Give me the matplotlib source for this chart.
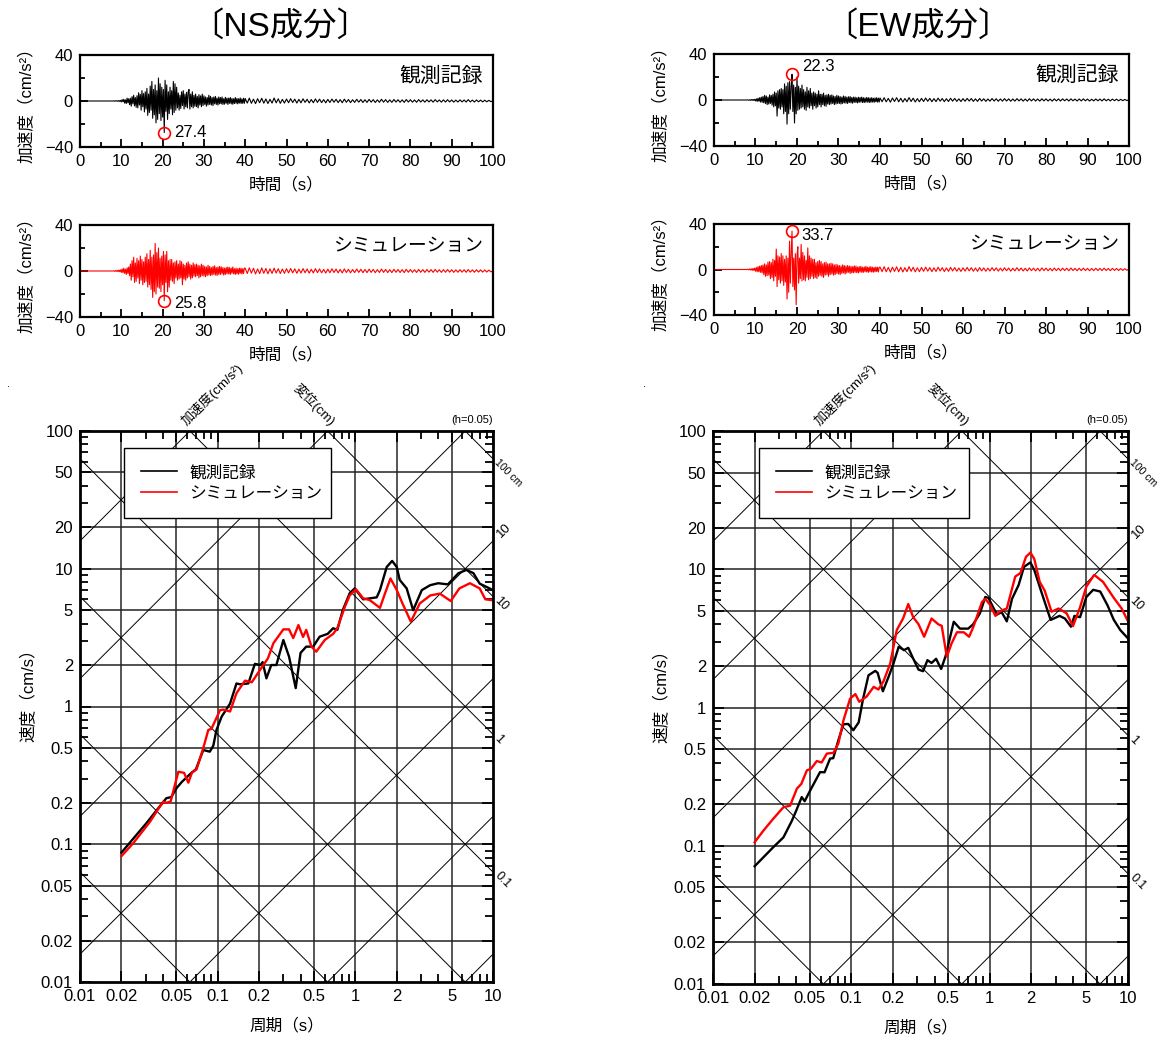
import numpy as np
import matplotlib
matplotlib.use('Agg')
import matplotlib.pyplot as plt
from matplotlib.ticker import FixedLocator, FixedFormatter, NullFormatter
from matplotlib.lines import Line2D

plt.rcParams['font.family'] = ['Liberation Sans', 'Noto Sans CJK JP', 'DejaVu Sans']

# ---------------- data: acceleration time histories (cm/s^2) ----------------
# sample times: 1 s before 8 s, 0.2 s in 8-40 s, 0.5 s in 40-100 s
T_WAVE = np.concatenate([np.arange(0, 8), np.linspace(8, 39.8, 160), np.linspace(40, 100, 121)])

NS_OBS_ACC = [0] * 8 + [
    0, 0.1, -0.2, 0.3, -0.1, 0.2, -0.3, 0.4, -0.3, 0.5,
    -0.8, 1.2, -0.6, 1.5, -1.8, 1.0, -2.2, 2.5, -1.5, 2.0,
    -3.2, 2.4, -4.5, 3.8, -2.5, 5.0, -4.2, 3.0, -5.5, 4.6,
    -6.0, 7.2, -3.5, 5.8, -8.0, 9.0, -5.0, 6.5, -9.5, 8.0,
    -7.0, 11.0, -12.5, 6.0, -10.0, 13.0, -8.0, 17.0, -15.0, 10.0,
    -12.0, 14.0, -19.0, 9.0, -16.0, 20.0, -11.0, 15.0, -17.0, 12.0,
    -14.0, 10.0, -27.4, 18.0, -9.0, 14.0, -16.0, 8.0, -11.0, 12.0,
    -7.0, 9.0, -12.0, 17.0, -10.0, 15.0, -8.0, 12.0, -6.0, 7.0,
    -8.0, 5.0, -6.5, 8.0, -4.0, 9.0, -7.0, 6.0, -5.0, 7.5,
    -6.0, 8.0, 10.0, -7.0, 6.0, -5.0, 8.0, -6.0, 5.0, -4.5,
    6.0, -5.0, 4.0, -6.0, 5.5, -3.5, 4.5, -5.0, 6.0, -4.0,
    4.5, -3.0, 3.5, -4.5, 3.0, -3.5, 5.0, -3.0, 4.0, -3.5,
    3.0, -4.0, 3.5, -2.5, 4.0, -3.0, 2.5, -3.5, 3.5, -2.5,
    3.0, -2.5, 3.5, -3.0, 2.0, -2.8, 3.2, -2.0, 2.5, -3.0,
    2.5, -2.0, 3.0, -2.5, 2.2, -2.8, 2.0, -2.2, 3.0, -2.0,
    2.2, -2.5, 2.0, -1.8, 2.6, -2.2, 1.8, -2.0, 2.4, -2.0] + [
    2.2, -1.8, 2.5, -2.0, 1.6, -2.3, 2.0, -1.5, 2.4, -1.9,
    1.8, -2.2, 1.5, -1.8, 2.6, -1.6, 1.9, -2.0, 1.4, -1.8,
    1.7, -1.5, 2.0, -1.3, 1.6, -1.8, 1.4, -1.6, 1.9, -1.2,
    1.5, -1.7, 1.3, -1.5, 1.8, -1.2, 1.6, -1.4, 1.2, -1.6,
    1.4, -1.3, 1.7, -1.1, 1.5, -1.4, 1.2, -1.5, 1.6, -1.1,
    1.3, -1.4, 1.1, -1.2, 1.5, -1.0, 1.3, -1.3, 1.1, -1.2,
    1.4, -1.0, 1.2, -1.3, 1.0, -1.1, 1.5, -1.0, 1.2, -1.2,
    1.0, -1.2, 1.3, -0.9, 1.1, -1.1, 1.0, -1.2, 1.3, -0.9,
    1.1, -1.0, 0.9, -1.1, 1.2, -0.9, 1.0, -1.0, 1.1, -0.8,
    1.0, -1.0, 1.2, -0.8, 0.9, -1.0, 1.0, -0.9, 1.1, -0.8,
    0.9, -1.0, 0.8, -0.9, 1.0, -0.8, 0.9, -0.9, 1.2, -0.8,
    0.8, -0.9, 0.9, -0.7, 0.8, -0.8, 0.7, -0.7, 0.6, -0.6,
    0.3]

NS_SIM_ACC = [0] * 8 + [
    0, 0.2, -0.3, 0.4, -0.3, 0.6, -0.5, 0.8, -0.6, 1.0,
    -1.2, 1.8, -1.5, 2.4, -2.0, 1.6, -3.0, 2.8, -2.2, 3.5,
    -4.0, 6.0, -8.0, 9.0, -5.0, 12.0, -10.0, 7.0, -9.0, 11.0,
    -6.0, 9.0, -11.0, 13.0, -8.0, 10.0, -12.0, 8.0, -10.0, 12.0,
    -9.0, 15.0, -14.0, 10.0, -12.0, 18.0, -16.0, 12.0, -23.0, 14.0,
    -18.0, 24.0, -20.0, 16.0, -14.0, 20.0, -15.0, 11.0, -18.0, 13.0,
    -12.0, 17.0, -25.8, 14.0, -10.0, 17.0, -18.0, 9.0, -14.0, 10.0,
    -8.0, 10.0, -9.0, 7.0, -11.0, 8.0, -6.0, 9.0, -8.0, 6.0,
    -7.0, 9.0, -6.0, 8.0, -12.0, 6.0, -7.0, 5.0, -8.0, 7.0,
    -6.0, 8.0, -5.0, 6.0, -7.0, 5.0, -6.0, 7.0, -4.5, 5.5,
    -5.0, 6.0, -4.0, 5.0, -6.0, 4.5, -5.0, 6.0, -4.0, 5.0,
    -4.5, 4.0, -5.0, 3.5, -4.0, 5.0, -3.5, 4.0, -4.0, 3.0,
    -3.5, 4.0, -3.0, 4.5, -3.5, 3.0, -4.0, 3.5, -3.0, 4.0,
    -3.0, 3.5, -2.5, 3.0, -3.5, 2.5, -3.0, 3.0, -2.5, 3.5,
    -2.5, 3.0, -3.0, 2.5, -2.0, 3.5, -2.5, 2.0, -3.0, 2.5,
    -2.5, 2.0, -2.8, 2.5, -2.0, 2.4, -2.6, 2.0, -2.2, 2.5] + [
    2.5, -2.2, 2.8, -1.9, 2.4, -2.6, 1.8, -2.3, 2.7, -2.0,
    2.2, -2.4, 1.9, -2.1, 2.5, -1.8, 2.0, -2.2, 1.7, -2.0,
    2.0, -1.7, 2.2, -1.6, 1.9, -2.0, 1.6, -1.8, 2.1, -1.5,
    1.8, -1.9, 1.5, -1.7, 2.0, -1.4, 1.8, -1.6, 1.4, -1.8,
    1.6, -1.5, 1.9, -1.3, 1.7, -1.6, 1.4, -1.7, 1.8, -1.3,
    1.5, -1.6, 1.3, -1.4, 1.7, -1.2, 1.5, -1.5, 1.3, -1.4,
    1.6, -1.2, 1.4, -1.5, 1.2, -1.3, 1.7, -1.2, 1.4, -1.4,
    1.2, -1.4, 1.5, -1.1, 1.3, -1.3, 1.2, -1.4, 1.5, -1.1,
    1.3, -1.2, 1.1, -1.3, 1.4, -1.1, 1.2, -1.2, 1.3, -1.0,
    1.2, -1.2, 1.4, -1.0, 1.1, -1.2, 1.2, -1.1, 1.3, -1.0,
    1.1, -1.2, 1.0, -1.1, 1.2, -1.0, 1.1, -1.1, 1.3, -1.0,
    1.0, -1.1, 1.1, -0.9, 1.0, -1.0, 0.9, -0.9, 0.8, -0.8,
    0.4]

EW_OBS_ACC = [0] * 8 + [
    0, 0.1, -0.2, 0.2, -0.3, 0.4, -0.3, 0.5, -0.4, 0.6,
    -0.8, 1.0, -1.2, 1.5, -1.0, 2.0, -1.8, 2.5, -2.0, 3.0,
    -2.5, 4.0, -3.0, 3.5, -4.0, 2.5, -3.5, 4.5, -3.0, 4.0,
    -4.5, 5.0, -6.0, 7.0, -5.0, 6.0, -14.0, 8.0, -7.0, 9.0,
    -8.0, 10.0, -6.0, 9.0, -12.0, 14.0, -10.0, 12.0, -21.0, 15.0,
    -12.0, 16.0, -8.0, 12.0, 22.3, -10.0, 13.0, -20.0, 11.0, -12.0,
    20.0, -9.0, 12.0, -8.0, 10.0, -7.0, 13.0, -6.0, 9.0, -8.0,
    7.0, -9.0, 11.0, -6.0, 8.0, -7.0, 10.0, -5.0, 6.0, -8.0,
    7.0, -5.0, 6.0, -7.0, 5.0, -6.0, 8.0, -4.0, 5.0, -6.0,
    5.0, -4.0, 6.0, -5.0, 4.0, -5.5, 4.5, -3.5, 5.0, -4.0,
    4.0, -3.5, 4.5, -3.0, 3.5, -4.0, 3.0, -3.5, 4.0, -3.0,
    3.5, -3.0, 3.0, -3.5, 2.5, -3.0, 3.5, -2.5, 3.0, -2.8,
    2.5, -3.0, 2.8, -2.2, 3.0, -2.5, 2.2, -2.8, 2.5, -2.0,
    2.5, -2.2, 2.0, -2.5, 2.4, -2.0, 2.2, -1.8, 2.5, -2.2,
    2.0, -2.2, 1.8, -2.0, 2.2, -1.8, 2.0, -2.2, 1.8, -2.0,
    2.0, -1.8, 1.6, -2.0, 1.8, -1.6, 2.0, -1.8, 1.6, -1.8] + [
    1.8, -1.5, 2.0, -1.6, 1.4, -1.9, 1.7, -1.3, 2.0, -1.6,
    1.5, -1.8, 1.3, -1.5, 2.1, -1.3, 1.6, -1.7, 1.2, -1.5,
    1.4, -1.3, 1.7, -1.1, 1.4, -1.5, 1.2, -1.4, 1.6, -1.0,
    1.3, -1.4, 1.1, -1.3, 1.5, -1.0, 1.4, -1.2, 1.0, -1.3,
    1.2, -1.1, 1.4, -0.9, 1.3, -1.2, 1.0, -1.2, 1.3, -0.9,
    1.1, -1.2, 0.9, -1.0, 1.3, -0.9, 1.1, -1.1, 0.9, -1.0,
    1.2, -0.9, 1.0, -1.1, 0.9, -1.0, 1.2, -0.8, 1.0, -1.0,
    0.9, -1.0, 1.1, -0.8, 1.0, -0.9, 0.9, -1.0, 1.1, -0.8,
    1.0, -0.9, 0.8, -1.0, 1.0, -0.8, 0.9, -0.9, 1.0, -0.7,
    0.9, -0.9, 1.0, -0.7, 0.8, -0.9, 0.9, -0.8, 1.0, -0.7,
    0.8, -0.9, 0.7, -0.8, 0.9, -0.7, 0.8, -0.8, 1.0, -0.7,
    0.7, -0.8, 0.8, -0.6, 0.7, -0.7, 0.6, -0.6, 0.5, -0.5,
    0.3]

EW_SIM_ACC = [0] * 8 + [
    0, 0.2, -0.3, 0.5, -0.4, 0.6, -0.8, 1.0, -0.8, 1.2,
    -1.5, 1.8, -2.0, 2.5, -2.0, 3.0, -2.5, 3.5, -3.0, 4.0,
    -4.5, 5.0, -6.0, 4.0, -5.5, 6.5, -5.0, 7.0, -8.0, 6.0,
    -7.0, 9.0, -10.0, 8.0, -6.0, 18.0, -15.0, 12.0, -9.0, 11.0,
    -12.0, 14.0, -10.0, 12.0, -14.0, 9.0, -11.0, 12.0, -26.0, 10.0,
    -20.0, 25.0, -12.0, 15.0, 33.7, -15.0, 10.0, -18.0, 14.0, -31.0,
    12.0, 20.0, -12.0, 10.0, -8.0, 22.0, -10.0, 15.0, -9.0, 12.0,
    -10.0, 8.0, -7.0, 19.0, -9.0, 12.0, -8.0, 10.0, -6.0, 9.0,
    -8.0, 9.0, -7.0, 6.0, -8.0, 7.0, -6.0, 8.0, -5.0, 7.0,
    -6.0, 5.0, -7.0, 6.0, -5.0, 6.5, -4.5, 5.0, -6.0, 5.0,
    -4.5, 5.5, -4.0, 5.0, -5.0, 4.0, -4.5, 4.5, -3.5, 4.0,
    -4.0, 3.5, -4.5, 3.0, -3.5, 4.0, -3.0, 3.5, -4.0, 3.0,
    -3.0, 3.5, -2.5, 3.0, -3.5, 2.8, -3.0, 2.5, -2.8, 3.2,
    -2.5, 3.0, -2.8, 2.2, -3.0, 2.5, -2.2, 2.8, -2.5, 2.0,
    -2.5, 2.2, -2.0, 2.8, -2.2, 2.0, -2.5, 2.2, -2.0, 2.5,
    -2.2, 2.0, -2.4, 1.8, -2.0, 2.2, -1.8, 2.0, -2.2, 1.8] + [
    2.2, -1.9, 2.5, -2.0, 1.8, -2.3, 2.1, -1.7, 2.4, -2.0,
    1.9, -2.2, 1.6, -1.9, 2.5, -1.6, 2.0, -2.1, 1.5, -1.9,
    1.8, -1.6, 2.1, -1.4, 1.7, -1.9, 1.5, -1.7, 2.0, -1.3,
    1.6, -1.8, 1.4, -1.6, 1.9, -1.3, 1.7, -1.5, 1.3, -1.7,
    1.5, -1.4, 1.8, -1.2, 1.6, -1.5, 1.3, -1.6, 1.7, -1.2,
    1.4, -1.5, 1.2, -1.3, 1.6, -1.1, 1.4, -1.4, 1.2, -1.3,
    1.5, -1.1, 1.3, -1.4, 1.1, -1.2, 1.6, -1.1, 1.3, -1.3,
    1.1, -1.3, 1.4, -1.0, 1.2, -1.2, 1.1, -1.3, 1.4, -1.0,
    1.2, -1.1, 1.0, -1.2, 1.3, -1.0, 1.1, -1.1, 1.2, -0.9,
    1.1, -1.1, 1.3, -0.9, 1.0, -1.1, 1.1, -1.0, 1.2, -0.9,
    1.0, -1.1, 0.9, -1.0, 1.1, -0.9, 1.0, -1.0, 1.2, -0.9,
    0.9, -1.0, 1.0, -0.8, 0.9, -0.9, 0.8, -0.8, 0.7, -0.7,
    0.4]

TIME_TICKS = [0, 10, 20, 30, 40, 50, 60, 70, 80, 90, 100]
TIME_MINOR = [5, 15, 25, 35, 45, 55, 65, 75, 85, 95]
ACC_TICKS = [-40, 0, 40]
ACC_MINOR = [-20, 20]

# ---------------- data: velocity response spectra (h=0.05) ----------------
NS_T_OBS = [0.02, 0.0305, 0.0361, 0.0424, 0.046, 0.0502, 0.055, 0.0647, 0.0695, 0.0786,
            0.0877, 0.093, 0.098, 0.1068, 0.123, 0.137, 0.145, 0.167, 0.1864, 0.205,
            0.212, 0.226, 0.245, 0.267, 0.30, 0.33, 0.369, 0.40, 0.44, 0.494,
            0.55, 0.63, 0.69, 0.74, 0.81, 0.91, 0.99, 1.14, 1.43, 1.51,
            1.69, 1.85, 2.0, 2.1, 2.36, 2.63, 3.04, 3.5, 4.0, 4.7,
            5.6, 6.4, 7.2, 8.0, 10.0]
NS_V_OBS = [0.087, 0.143, 0.177, 0.216, 0.22, 0.255, 0.284, 0.331, 0.35, 0.483,
            0.47, 0.52, 0.675, 0.843, 1.05, 1.47, 1.45, 1.47, 2.04, 2.0,
            2.1, 1.6, 2.0, 2.0, 3.04, 2.30, 1.36, 2.45, 2.72, 2.72,
            3.21, 3.37, 3.70, 3.6, 5.0, 6.64, 7.2, 6.0, 6.2, 7.0,
            10.3, 11.4, 10.3, 8.3, 7.2, 5.0, 7.0, 7.6, 7.85, 7.7,
            9.27, 9.8, 9.3, 7.8, 7.0]
NS_T_SIM = [0.02, 0.0244, 0.0268, 0.0323, 0.037, 0.0403, 0.0425, 0.0455, 0.0518, 0.057,
            0.0612, 0.065, 0.0703, 0.0786, 0.0855, 0.0902, 0.104, 0.11, 0.123, 0.137,
            0.158, 0.177, 0.203, 0.232, 0.254, 0.30, 0.33, 0.354, 0.386, 0.417,
            0.44, 0.48, 0.52, 0.60, 0.69, 0.74, 0.84, 0.91, 1.01, 1.14,
            1.27, 1.51, 1.64, 1.80, 2.0, 2.2, 2.53, 2.94, 3.5, 4.11,
            4.93, 5.7, 6.8, 8.0, 8.8, 10.0]
NS_V_SIM = [0.082, 0.102, 0.115, 0.146, 0.18, 0.204, 0.2, 0.204, 0.336, 0.33,
            0.28, 0.33, 0.35, 0.50, 0.675, 0.69, 0.94, 0.95, 0.92, 1.25,
            1.54, 1.5, 1.84, 2.24, 2.88, 3.63, 3.63, 3.14, 3.9, 3.2,
            3.6, 2.72, 2.5, 3.04, 3.37, 3.7, 5.3, 6.4, 7.1, 6.1,
            5.93, 5.2, 6.6, 8.5, 7.0, 5.6, 4.13, 5.6, 6.4, 6.6,
            5.83, 7.2, 7.85, 7.2, 6.0, 5.9]

EW_T_OBS = [0.02, 0.0273, 0.0323, 0.0371, 0.040, 0.0438, 0.046, 0.0503, 0.0594, 0.064,
            0.0702, 0.074, 0.0806, 0.0878, 0.095, 0.1034, 0.113, 0.121, 0.133, 0.149,
            0.155, 0.169, 0.186, 0.2016, 0.22, 0.24, 0.258, 0.28, 0.306, 0.33,
            0.355, 0.38, 0.41, 0.446, 0.48, 0.55, 0.61, 0.70, 0.76, 0.85,
            0.93, 0.98, 1.07, 1.13, 1.22, 1.33, 1.45, 1.62, 1.77, 1.97,
            2.1, 2.36, 2.76, 3.2, 3.5, 3.87, 4.1, 4.5, 5.0, 5.6,
            6.3, 7.1, 7.9, 8.8, 10.0]
EW_V_OBS = [0.0711, 0.0977, 0.115, 0.151, 0.18, 0.225, 0.21, 0.25, 0.341, 0.34,
            0.427, 0.43, 0.58, 0.757, 0.76, 0.685, 0.78, 1.13, 1.71, 1.84,
            1.78, 1.31, 1.67, 2.08, 2.75, 2.6, 2.7, 2.26, 1.88, 1.83,
            2.2, 2.1, 2.25, 1.9, 2.35, 4.17, 3.72, 3.72, 4.0, 4.8,
            6.3, 6.2, 5.2, 4.7, 4.9, 4.2, 6.1, 7.7, 10.4, 11.2,
            9.9, 6.9, 4.3, 4.6, 4.4, 3.84, 4.6, 4.5, 6.3, 7.1,
            6.9, 5.5, 4.3, 3.63, 3.16]
EW_T_SIM = [0.02, 0.0232, 0.0273, 0.0323, 0.0361, 0.0404, 0.0435, 0.0477, 0.051, 0.0563,
            0.061, 0.0665, 0.0743, 0.0806, 0.0878, 0.098, 0.107, 0.114, 0.129, 0.145,
            0.157, 0.171, 0.191, 0.213, 0.237, 0.258, 0.28, 0.306, 0.336, 0.38,
            0.425, 0.45, 0.49, 0.53, 0.58, 0.65, 0.71, 0.76, 0.88, 0.93,
            1.01, 1.1, 1.2, 1.33, 1.53, 1.67, 1.83, 1.97, 2.1, 2.3,
            2.5, 2.8, 3.15, 3.6, 4.0, 4.5, 5.0, 5.7, 6.6, 7.9,
            9.0, 10.0]
EW_V_SIM = [0.106, 0.129, 0.157, 0.19, 0.195, 0.259, 0.28, 0.351, 0.36, 0.41,
            0.40, 0.464, 0.47, 0.55, 0.81, 1.16, 1.25, 1.1, 1.2, 1.41,
            1.35, 1.55, 2.08, 3.63, 4.42, 5.6, 4.5, 4.0, 3.25, 4.4,
            4.0, 3.9, 2.33, 2.9, 3.5, 3.5, 3.25, 3.8, 5.8, 6.1,
            5.5, 4.6, 5.0, 5.2, 8.85, 9.4, 12.3, 13.2, 11.9, 8.1,
            7.0, 4.93, 5.2, 4.8, 3.88, 5.3, 7.5, 9.1, 8.1, 6.2,
            5.2, 4.2]

PERIOD_TICKS = [0.01, 0.02, 0.05, 0.1, 0.2, 0.5, 1, 2, 5, 10]
PERIOD_LABELS = ['0.01', '0.02', '0.05', '0.1', '0.2', '0.5', '1', '2', '5', '10']
VEL_TICKS = [0.01, 0.02, 0.05, 0.1, 0.2, 0.5, 1, 2, 5, 10, 20, 50, 100]
VEL_LABELS = ['0.01', '0.02', '0.05', '0.1', '0.2', '0.5', '1', '2', '5', '10', '20', '50', '100']
DISP_LINES = [1e-4, 1e-3, 1e-2, 0.1, 1, 10, 100]          # cm
ACC_LINES = [1e-2, 1e-1, 1, 10, 100, 1e3, 1e4]            # cm/s^2
DISP_LABELED = [0.1, 1, 10, 100]
DISP_LABEL_TEXT = ['0.1', '1', '10', '100 cm']
DISP_LABEL_SIZE = [9, 9, 9, 7.5]
ACC_LABELED = [10]
ACC_LABEL_TEXT = ['10']

# ---------------- figure ----------------
W, H = 1161, 1040
fig = plt.figure(figsize=(W / 100, H / 100), dpi=100)


def add_ax(l, t, r, b):
    return fig.add_axes([l / W, 1 - b / H, (r - l) / W, (b - t) / H])


def minor_decades(lo_exp, hi_exp):
    return [k * 10.0 ** e for e in range(lo_exp, hi_exp) for k in (3, 4, 6, 7, 8, 9)]


def wave_panel(box, acc, color, label, label_fs, peak_off):
    ax = add_ax(*box)
    t = T_WAVE
    v = np.asarray(acc, dtype=float)
    ax.plot(t, v, color=color, lw=0.8, zorder=2)
    ax.set_xlim(0, 100)
    ax.set_ylim(-40, 40)
    ax.xaxis.set_major_locator(FixedLocator(TIME_TICKS))
    ax.xaxis.set_minor_locator(FixedLocator(TIME_MINOR))
    ax.yaxis.set_major_locator(FixedLocator(ACC_TICKS))
    ax.yaxis.set_minor_locator(FixedLocator(ACC_MINOR))
    ax.tick_params(which='major', direction='in', length=6, width=1.3, labelsize=12, pad=5)
    ax.tick_params(which='minor', direction='in', length=3.5, width=1.3)
    for s in ax.spines.values():
        s.set_linewidth(1.6)
    ax.set_xlabel('時間（s）', fontsize=12)
    ax.xaxis.set_label_coords(0.5, -0.32)
    ax.set_ylabel('加速度（cm/s²）', fontsize=12)
    ax.yaxis.set_label_coords(-0.11, 0.5)
    ax.text(0.975, 0.77, label, transform=ax.transAxes, ha='right', va='center',
            fontsize=label_fs)
    i = int(np.argmax(np.abs(v)))
    ax.plot([t[i]], [v[i]], marker='o', ms=8.5, mfc='none', mec='red', mew=1.2, zorder=4,
            clip_on=False)
    ax.annotate(f'{abs(v[i]):.1f}', xy=(t[i], v[i]), xytext=peak_off,
                textcoords='offset points', ha='left', va='center', fontsize=12)
    return ax


def spec_panel(box, T_o, V_o, T_s, V_s, leg_x, leg_w):
    ax = add_ax(*box)
    ax.set_xscale('log')
    ax.set_yscale('log')
    for x in PERIOD_TICKS[1:-1]:
        ax.axvline(x, color='#555555', lw=1.4, zorder=1)
    for y in VEL_TICKS[1:-1]:
        ax.axhline(y, color='#222222', lw=1.1, zorder=1)
    Tl = np.array([0.005, 20.0])
    for D in DISP_LINES:
        ax.plot(Tl, 2 * np.pi * D / Tl, color='black', lw=0.7, zorder=1)
    for A in ACC_LINES:
        ax.plot(Tl, A * Tl / (2 * np.pi), color='black', lw=0.7, zorder=1)
    ax.plot(T_o, V_o, color='black', lw=1.7, zorder=3)
    ax.plot(T_s, V_s, color='red', lw=1.7, zorder=4)
    ax.set_xlim(0.01, 10)
    ax.set_ylim(0.01, 100)
    ax.xaxis.set_major_locator(FixedLocator(PERIOD_TICKS))
    ax.xaxis.set_major_formatter(FixedFormatter(PERIOD_LABELS))
    ax.xaxis.set_minor_locator(FixedLocator(minor_decades(-2, 1)))
    ax.xaxis.set_minor_formatter(NullFormatter())
    ax.yaxis.set_major_locator(FixedLocator(VEL_TICKS))
    ax.yaxis.set_major_formatter(FixedFormatter(VEL_LABELS))
    ax.yaxis.set_minor_locator(FixedLocator(minor_decades(-2, 2)))
    ax.yaxis.set_minor_formatter(NullFormatter())
    ax.tick_params(which='both', direction='in', top=True, right=True)
    ax.tick_params(which='major', length=8, width=1.3, labelsize=12, pad=5)
    ax.tick_params(which='minor', length=5.5, width=1.3)
    for s in ax.spines.values():
        s.set_linewidth(2.0)
        s.set_zorder(5)
    ax.set_xlabel('周期（s）', fontsize=12)
    ax.xaxis.set_label_coords(0.5, -0.065)
    ax.set_ylabel('速度（cm/s）', fontsize=12)
    ax.yaxis.set_label_coords(-0.105, 0.527)

    handles = [Line2D([], [], color='black', lw=1.2), Line2D([], [], color='red', lw=1.2)]
    leg = ax.legend(handles, ['観測記録', 'シミュレーション'], loc='upper left',
                    bbox_to_anchor=(leg_x, 0.0, leg_w, 0.969), mode='expand',
                    borderaxespad=0, fontsize=12, frameon=True, fancybox=False,
                    framealpha=1, edgecolor='black', borderpad=1.0, labelspacing=0.35,
                    handlelength=2.2, handletextpad=0.7)
    leg.get_frame().set_linewidth(1.0)
    leg.set_zorder(6)

    # right-side tripartite labels
    for D, lab, fs in zip(DISP_LABELED, DISP_LABEL_TEXT, DISP_LABEL_SIZE):
        ax.annotate(lab, xy=(10, 2 * np.pi * D / 10), xytext=(2.5, -1.5),
                    textcoords='offset points', rotation=-45, rotation_mode='anchor',
                    ha='left', va='center', fontsize=fs, annotation_clip=False)
    for A, lab in zip(ACC_LABELED, ACC_LABEL_TEXT):
        ax.annotate(lab, xy=(10, A * 10 / (2 * np.pi)), xytext=(4.0, 3.5),
                    textcoords='offset points', rotation=45, rotation_mode='anchor',
                    ha='left', va='center', fontsize=9.5, annotation_clip=False)
    # top labels
    ax.annotate('加速度(cm/s²)', xy=(2 * np.pi * 100 / ACC_LINES[-1], 100), xytext=(-1, 2),
                textcoords='offset points', rotation=45, rotation_mode='anchor',
                ha='left', va='bottom', fontsize=9.5, annotation_clip=False)
    ax.annotate('変位(cm)', xy=(2 * np.pi * 10 / 100, 100), xytext=(0, 2),
                textcoords='offset points', rotation=-45, rotation_mode='anchor',
                ha='right', va='bottom', fontsize=9.5, annotation_clip=False)
    ax.text(1.0, 1.01, '(h=0.05)', transform=ax.transAxes, ha='right', va='bottom',
            fontsize=8)
    return ax


# NS component
fig.text(280 / W, 1 - 27 / H, '〔NS成分〕', ha='center', va='center', fontsize=24)
wave_panel((80, 55, 493, 147), NS_OBS_ACC, 'black', '観測記録', 15, (7, 0))
wave_panel((80, 225, 493, 317), NS_SIM_ACC, 'red', 'シミュレーション', 13.5, (7, -2))
spec_panel((80, 431, 493, 982), NS_T_OBS, NS_V_OBS, NS_T_SIM, NS_V_SIM, 0.1065, 0.501)

# EW component
fig.text(918 / W, 1 - 27 / H, '〔EW成分〕', ha='center', va='center', fontsize=24)
wave_panel((714, 54, 1129, 146), EW_OBS_ACC, 'black', '観測記録', 15, (7, 6))
wave_panel((714, 224, 1129, 315), EW_SIM_ACC, 'red', 'シミュレーション', 13.5, (7, -3))
spec_panel((713, 431, 1128, 984), EW_T_OBS, EW_V_OBS, EW_T_SIM, EW_V_SIM, 0.111, 0.506)

# small stray marks present in the original
fig.text(8 / W, 1 - 384 / H, '.', fontsize=8, ha='center', va='center')
fig.text(645 / W, 1 - 384 / H, '.', fontsize=8, ha='center', va='center')

fig.savefig('out.png', dpi=100)
